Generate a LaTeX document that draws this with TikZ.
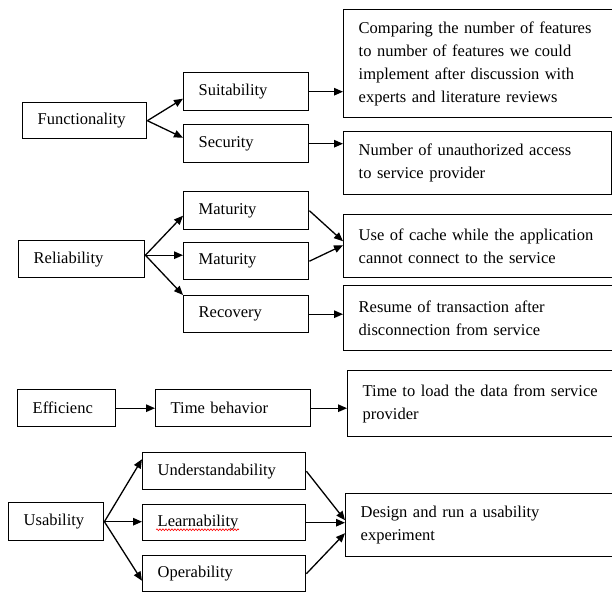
\documentclass[tikz,border=0pt]{standalone}
\usepackage{fontspec}
\setmainfont{Liberation Serif}
\usetikzlibrary{arrows.meta,decorations.pathmorphing}
\begin{document}
\begin{tikzpicture}[x=1pt,y=-1pt,
  bx/.style n args={2}{draw, line width=1.4pt, rectangle, anchor=north west,
     inner xsep=15pt, inner ysep=0pt, align=left,
     text width=#1pt-30pt, minimum height=#2pt,
     font=\fontsize{16.5}{23}\selectfont},
  conn/.style={line width=1.3pt, -{Triangle[length=9pt,width=7.5pt]}}]
\useasboundingbox (0,0) rectangle (612,592);
\clip (0,0) rectangle (612,592);
% Functionality
\node[bx={124}{36}] (fun) at (22,102) {Functionality};
\node[bx={125}{38}] (suit) at (183,72) {Suitability};
\node[bx={125}{38}] (sec) at (183,124) {Security};
\node[bx={320}{108}] (m1) at (343,9) {Comparing the number of features\\to number of features we could\\implement after discussion with\\experts and literature reviews};
\node[bx={268}{63}] (m2) at (343,131) {Number of unauthorized access\\to service provider};
% Reliability
\node[bx={126}{37}] (rel) at (18,240) {Reliability};
\node[bx={125}{38}] (mat1) at (183,191) {Maturity};
\node[bx={125}{37}] (mat2) at (183,242) {Maturity};
\node[bx={125}{37}] (rec) at (183,295) {Recovery};
\node[bx={320}{63}] (m3) at (343,214) {Use of cache while the application\\cannot connect to the service};
\node[bx={320}{65}] (m4) at (343,285) {Resume of transaction after\\disconnection from service};
% Efficiency
\node[bx={98}{37}] (eff) at (17,389) {Efficienc};
\node[bx={155}{37}] (tb) at (155,389) {Time behavior};
\node[bx={320}{66}] (m5) at (347,370) {Time to load the data from service\\provider};
% Usability
\node[bx={95}{38}] (usa) at (8,502) {Usability};
\node[bx={163}{37}] (und) at (142,452) {Understandability};
\node[bx={163}{36}] (lea) at (142,504) {Learnability};
\node[bx={163}{36}] (ope) at (142,555) {Operability};
\node[bx={320}{63}] (m6) at (345,493) {Design and run a usability\\experiment};
% spell-check underline
\draw[red, line width=0.6pt, decorate, decoration={snake, amplitude=0.9pt, segment length=3pt}]
  ([xshift=14pt,yshift=-7pt]lea.west) -- ([xshift=97pt,yshift=-7pt]lea.west);
% connectors
\draw[conn] (fun.east) -- ([yshift=-7pt]suit.west);
\draw[conn] (fun.east) -- ([yshift=6pt]sec.west);
\draw[conn] (suit.east) -- (suit.east -| m1.west);
\draw[conn] (sec.east) -- (sec.east -| m2.west);
\draw[conn] ([yshift=4pt]rel.east) -- ([yshift=-5pt]mat1.west);
\draw[conn] ([yshift=4pt]rel.east) -- ([yshift=4pt]rel.east -| mat2.west);
\draw[conn] ([yshift=4pt]rel.east) -- (rec.north west);
\draw[conn] (mat1.east) -- ([yshift=5pt]m3.west);
\draw[conn] (mat2.east) -- ([yshift=1pt]m3.west);
\draw[conn] (rec.east) -- (rec.east -| m4.west);
\draw[conn] (eff.east) -- (tb.west);
\draw[conn] (tb.east) -- (tb.east -| m5.west);
\draw[conn] (usa.east) -- ([yshift=12pt]und.west);
\draw[conn] (usa.east) -- (usa.east -| lea.west);
\draw[conn] (usa.east) -- ([yshift=-7pt]ope.west);
\draw[conn] (und.east) -- ([yshift=5pt]m6.west);
\draw[conn] (lea.east) -- (lea.east -| m6.west);
\draw[conn] (ope.east) -- ([yshift=-8pt]m6.west);
\end{tikzpicture}
\end{document}
